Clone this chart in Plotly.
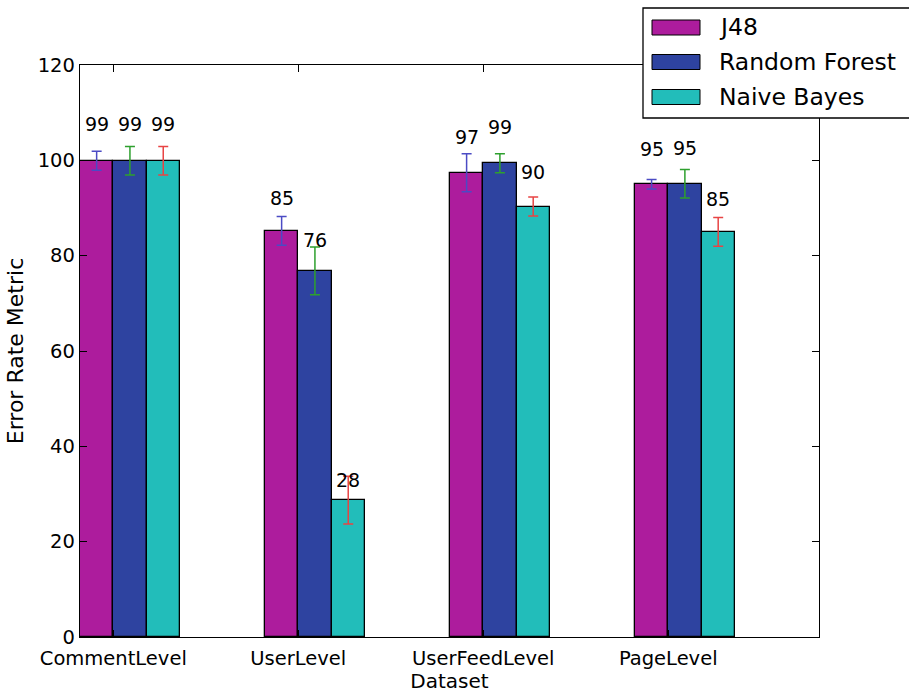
import plotly.graph_objects as go

# Data
datasets = ["CommentLevel", "UserLevel", "UserFeedLevel", "PageLevel"]
classifiers = ["J48", "Random Forest", "Naive Bayes"]
j48 = [99.9, 85.2, 97.4, 95.0]
random_forest = [99.9, 76.8, 99.4, 95.1]
naive_bayes = [99.9, 28.7, 90.3, 85.0]
j48_err = [2.0, 3.0, 4.0, 1.0]
random_forest_err = [3.0, 5.0, 2.0, 3.0]
naive_bayes_err = [3.0, 5.0, 2.0, 3.0]
y_ticks = [0, 20, 40, 60, 80, 100, 120]

series = [j48, random_forest, naive_bayes]
errors = [j48_err, random_forest_err, naive_bayes_err]
bar_colors = ["#ad1c9d", "#2e43a0", "#22bdba"]
err_colors = ["#4b4bc4", "#2ea02e", "#e84444"]

FONT = "DejaVu Sans"
width = 0.18
ind = list(range(len(datasets)))

fig = go.Figure()
for k, (vals, errs) in enumerate(zip(series, errors)):
    xs = [i + k * width + width / 2 for i in ind]
    fig.add_trace(go.Bar(
        x=xs, y=vals, width=width, name=classifiers[k],
        marker=dict(color=bar_colors[k], line=dict(color="black", width=1.3)),
        error_y=dict(type="data", array=errs, visible=True,
                     color=err_colors[k], thickness=1.5, width=5),
        showlegend=False,
    ))
    # value labels above each bar
    for x, v in zip(xs, vals):
        fig.add_annotation(x=x, y=1.05 * v, text=str(int(v)), showarrow=False,
                           xanchor="center", yanchor="bottom",
                           font=dict(family=FONT, size=19, color="black"))

# Legend box drawn by hand
L, T = 80, 637
PW, PH = 739, 572
def px(x):
    return (x - L) / PW
def py(y):
    return (T - y) / PH

fig.add_shape(type="rect", xref="paper", yref="paper",
              x0=px(643), x1=px(960), y0=py(118), y1=py(8),
              line=dict(color="black", width=1.3), fillcolor="white", layer="above")
row_y = [27.5, 62, 97]
for k, name in enumerate(classifiers):
    fig.add_shape(type="rect", xref="paper", yref="paper",
                  x0=px(652), x1=px(700), y0=py(row_y[k] + 7.5), y1=py(row_y[k] - 7.5),
                  line=dict(color="black", width=1), fillcolor=bar_colors[k], layer="above")
    fig.add_annotation(xref="paper", yref="paper", x=px(717), y=py(row_y[k]),
                       text=name, showarrow=False, xanchor="left", yanchor="middle",
                       font=dict(family=FONT, size=23.5, color="black"))

fig.update_layout(
    width=909, height=693,
    margin=dict(l=L, r=909 - 819, t=65, b=693 - 637),
    plot_bgcolor="white", paper_bgcolor="white",
    bargap=0, barmode="overlay",
    font=dict(family=FONT, size=19, color="black"),
)
fig.update_xaxes(
    range=[0, 3.995], tickmode="array",
    tickvals=[i + width for i in ind], ticktext=datasets,
    ticks="inside", ticklen=7, tickcolor="black", tickwidth=1,
    showline=True, linecolor="black", linewidth=1.3, mirror="ticks",
    showgrid=False, zeroline=False, automargin=False,
    tickfont=dict(family=FONT, size=19.5), ticklabelstandoff=3,
    title=dict(text="Dataset", font=dict(family=FONT, size=20), standoff=10),
)
fig.update_yaxes(
    range=[0, 120], tickmode="array", tickvals=y_ticks,
    ticks="inside", ticklen=7, tickcolor="black", tickwidth=1,
    showline=True, linecolor="black", linewidth=1.3, mirror="ticks",
    showgrid=False, zeroline=False, automargin=False,
    tickfont=dict(family=FONT, size=19.5),
    title=dict(text="Error Rate Metric", font=dict(family=FONT, size=22), standoff=8),
)

fig.write_html("out.html")
